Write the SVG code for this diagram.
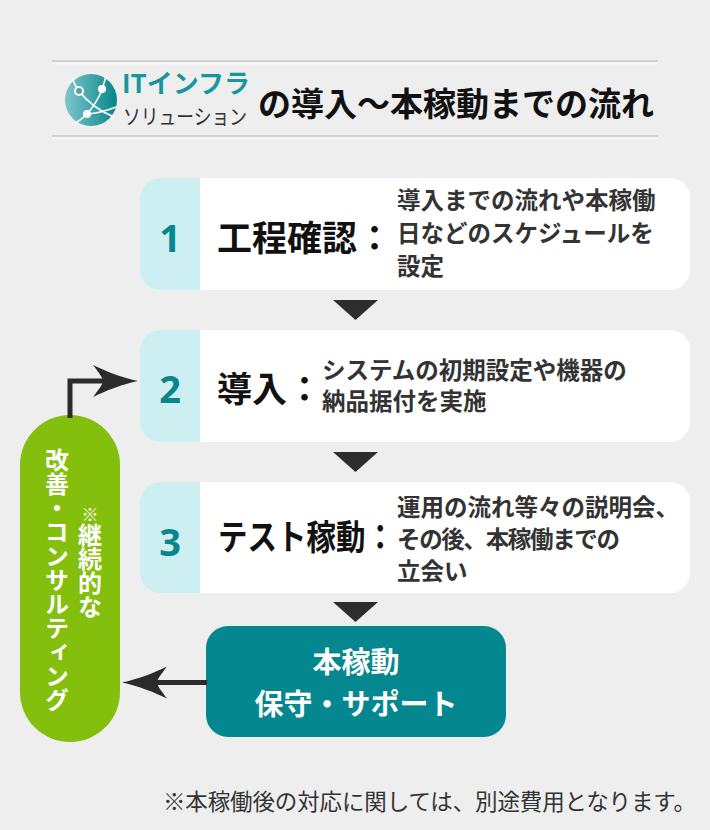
<svg xmlns="http://www.w3.org/2000/svg" width="710" height="830" viewBox="0 0 710 830">
<defs>
<style>
text{font-family:"Noto Sans CJK JP","Noto Sans",sans-serif;}
.b{font-weight:700;}
.num{font-family:"Noto Sans","Open Sans",sans-serif;font-weight:700;font-size:38px;fill:#07868c;text-anchor:middle;}
.ttl{font-weight:700;font-size:35px;fill:#111;}
.dsc{font-weight:700;font-size:23.5px;fill:#333;}
.card{fill:#fff;}
.tab{fill:#cdeff1;}
.tri{fill:#2d2d2d;}
.conn{fill:none;stroke:#2b2b2b;stroke-width:5;}
.wt{fill:#fff;font-weight:700;}
</style>
<linearGradient id="lg" x1="0" y1="0" x2="1" y2="0">
<stop offset="0" stop-color="#7fc6c9"/>
<stop offset="1" stop-color="#06858b"/>
</linearGradient>
<marker id="ah" markerUnits="userSpaceOnUse" viewBox="0 -17 46 34" markerWidth="46" markerHeight="34" refX="10" refY="0" orient="auto" overflow="visible">
<path d="M45,0 C30,-3 12,-10 0,-16 C6,-8 10,-3 10,0 C10,3 6,8 0,16 C12,10 30,3 45,0 Z" fill="#2b2b2b"/>
</marker>
</defs>
<rect width="710" height="830" fill="#eeeeee"/>

<g id="header">
<line x1="52" y1="61" x2="658" y2="61" stroke="#c9c9c9" stroke-width="1.5"/>
<line x1="52" y1="63.5" x2="658" y2="63.5" stroke="#fafafa" stroke-width="1.5"/>
<line x1="52" y1="136" x2="658" y2="136" stroke="#c9c9c9" stroke-width="1.5"/>
<line x1="52" y1="138.5" x2="658" y2="138.5" stroke="#fafafa" stroke-width="1.5"/>
<circle cx="91" cy="100" r="26" fill="url(#lg)"/>
<g fill="none" stroke="#fff" stroke-width="1.6">
<path d="M72,78 Q75,86 79,91 Q92,108 114,117"/>
<path d="M106,76 Q104,83 102,90 Q96,104 87,114 Q81,120 74,124"/>
<path d="M87,114 Q101,113 116,107"/>
</g>
<circle cx="79" cy="91" r="4" fill="#4aa8ac" stroke="#fff" stroke-width="2"/>
<circle cx="102" cy="89" r="4" fill="#fff"/>
<circle cx="87" cy="114" r="4" fill="#fff"/>
<text x="122" y="93" class="b" font-size="26" fill="#17979d">ITインフラ</text>
<text x="123" y="124" font-size="21" fill="#333" textLength="124" lengthAdjust="spacingAndGlyphs">ソリューション</text>
<text x="258" y="116" class="b" font-size="33" fill="#111">の導入〜本稼動までの流れ</text>
</g>

<g id="step1">
<rect x="140" y="178" width="550" height="112" rx="20" class="card"/>
<path d="M200,178 H160 A20,20 0 0 0 140,198 V270 A20,20 0 0 0 160,290 H200 Z" class="tab"/>
<text x="170" y="252" class="num">1</text>
<text x="217" y="251" class="ttl">工程確認：</text>
<text class="dsc"><tspan x="397" y="209">導入までの流れや本稼働</tspan><tspan x="397" y="242">日などのスケジュールを</tspan><tspan x="397" y="275">設定</tspan></text>
</g>

<g id="step2">
<rect x="140" y="330" width="550" height="112" rx="20" class="card"/>
<path d="M200,330 H160 A20,20 0 0 0 140,350 V422 A20,20 0 0 0 160,442 H200 Z" class="tab"/>
<text x="170" y="403" class="num">2</text>
<text x="217" y="402" class="ttl">導入：</text>
<text class="dsc"><tspan x="322" y="379">システムの初期設定や機器の</tspan><tspan x="322" y="410">納品据付を実施</tspan></text>
</g>

<g id="step3">
<rect x="140" y="482" width="550" height="111" rx="20" class="card"/>
<path d="M200,482 H160 A20,20 0 0 0 140,502 V573 A20,20 0 0 0 160,593 H200 Z" class="tab"/>
<text x="170" y="556" class="num">3</text>
<text transform="translate(218,550) scale(0.843,1)" x="0" y="0" class="ttl">テスト稼動：</text>
<text class="dsc"><tspan x="397" y="516">運用の流れ等々の説明会、</tspan><tspan x="397" y="548" textLength="223" lengthAdjust="spacing">その後、本稼働までの</tspan><tspan x="397" y="580">立会い</tspan></text>
</g>

<g id="operation">
<rect x="206" y="626" width="300" height="111" rx="22" fill="#04878e"/>
<text class="wt" font-size="29" text-anchor="middle"><tspan x="356" y="672.5">本稼動</tspan><tspan x="356" y="714.5">保守・サポート</tspan></text>
</g>

<g id="consulting">
<rect x="20" y="415" width="100" height="327" rx="50" fill="#84bf0e"/>
<text x="57" y="448" class="wt" font-size="24" style="writing-mode:vertical-rl">改善・コンサルティング</text>
<text x="90" y="506" class="wt" font-size="24" style="writing-mode:vertical-rl"><tspan font-size="17">※</tspan>継続的な</text>
</g>

<g id="connectors">
<path d="M333,300 H378 L355.5,320 Z" class="tri"/>
<path d="M333,452 H378 L355.5,472 Z" class="tri"/>
<path d="M333,602 H378 L355.5,622 Z" class="tri"/>
<path d="M70,418 V381 H103" class="conn" marker-end="url(#ah)"/>
<path d="M207,682.5 H157" class="conn" marker-end="url(#ah)"/>
</g>

<text id="note" x="163" y="810" font-size="22.5" fill="#333" textLength="533" lengthAdjust="spacing">※本稼働後の対応に関しては、別途費用となります。</text>
</svg>
